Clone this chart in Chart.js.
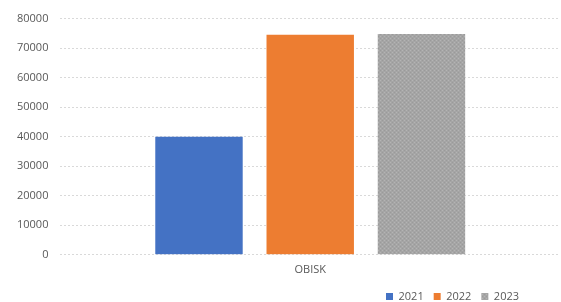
<!DOCTYPE html>
<html>
<head>
<meta charset="utf-8">
<script src="https://cdn.jsdelivr.net/npm/chart.js@4"></script>
<style>
  html, body { margin: 0; padding: 0; background: #fff; }
  #wrap { width: 561px; height: 302px; }
</style>
</head>
<body>
<div id="wrap"><canvas id="chart" width="561" height="302"></canvas></div>
<script>
// data
var categories = ['OBISK'];
var years = ['2021', '2022', '2023'];
var values2021 = [40000];
var values2022 = [74500];
var values2023 = [74800];
var yTicks = [0, 10000, 20000, 30000, 40000, 50000, 60000, 70000, 80000];

// dotted grey fill like the excel texture
function greyPattern() {
  var c = document.createElement('canvas');
  c.width = 4; c.height = 4;
  var g = c.getContext('2d');
  g.fillStyle = '#a5a5a5';
  g.fillRect(0, 0, 4, 4);
  g.fillStyle = '#b4b4b4';
  g.fillRect(0, 0, 1, 1);
  g.fillRect(2, 2, 1, 1);
  g.fillStyle = '#9a9a9a';
  g.fillRect(2, 0, 1, 1);
  g.fillRect(0, 2, 1, 1);
  return g.createPattern(c, 'repeat');
}

// legend: a bit shorter than chart.js wants, and in from the right edge
var legendTweak = {
  id: 'legendTweak',
  beforeLayout: function (chart) {
    var lg = chart.legend;
    if (lg && !lg._tweaked) {
      var fit = lg.fit;
      lg.fit = function () {
        fit.call(this);
        this.height -= 13;
      };
      lg._tweaked = true;
    }
  },
  afterLayout: function (chart) {
    chart.legend.left -= 31;
    chart.legend.right -= 31;
    chart.legend.top -= 3;
  }
};

var ctx = document.getElementById('chart').getContext('2d');
var chart = new Chart(ctx, {
  type: 'bar',
  data: {
    labels: categories,
    datasets: [
      { label: years[0], data: values2021, backgroundColor: '#4472c4' },
      { label: years[1], data: values2022, backgroundColor: '#ed7d31' },
      { label: years[2], data: values2023, backgroundColor: greyPattern() }
    ]
  },
  options: {
    responsive: false,
    animation: false,
    layout: { padding: { top: 17, right: 1, left: 5, bottom: 0 } },
    datasets: {
      bar: { categoryPercentage: 0.668, barPercentage: 0.786 }
    },
    scales: {
      x: {
        grid: { display: false, drawTicks: false },
        border: { display: false },
        ticks: { color: '#595959', font: { family: 'Open Sans', size: 11 }, padding: 8 }
      },
      y: {
        min: 0,
        max: 80000,
        afterBuildTicks: function (axis) {
          axis.ticks = yTicks.map(function (v) { return { value: v }; });
        },
        grid: { color: '#d9d9d9', drawTicks: false },
        border: { display: false, dash: [2, 2] },
        ticks: {
          color: '#595959',
          font: { family: 'Open Sans', size: 11 },
          padding: 12,
          callback: function (v) { return String(v); }
        }
      }
    },
    plugins: {
      legend: {
        position: 'bottom',
        align: 'end',
        labels: {
          boxWidth: 7,
          boxHeight: 7,
          padding: 10,
          color: '#595959',
          font: { family: 'Open Sans', size: 11 }
        }
      },
      tooltip: { enabled: false }
    }
  },
  plugins: [legendTweak]
});
</script>
</body>
</html>
